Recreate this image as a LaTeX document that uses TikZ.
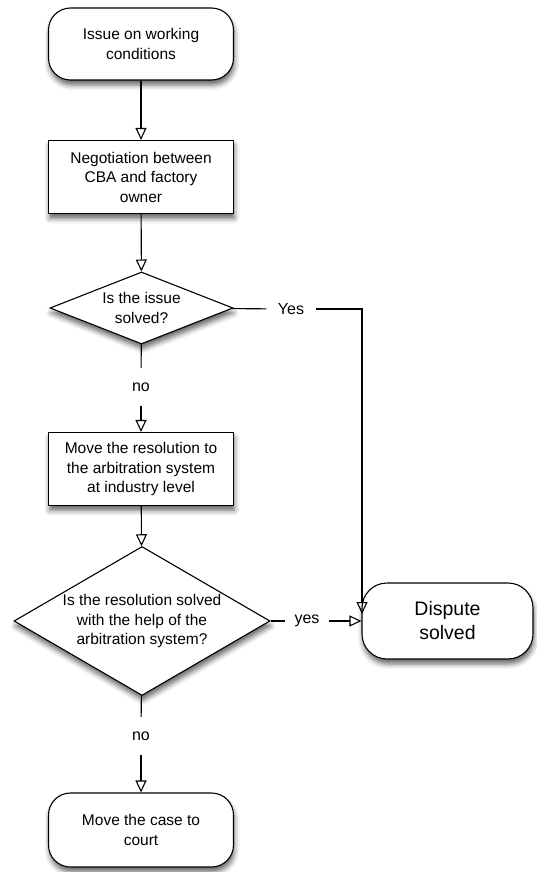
\documentclass[tikz,border=0pt]{standalone}
\usepackage{fontspec}
\setmainfont{Liberation Sans}
\usetikzlibrary{shapes.geometric,arrows.meta,shadows.blur}

\begin{document}
\begin{tikzpicture}[x=1pt,y=-1pt,
  line width=1.1pt,
  arr/.style={-{Triangle[open,length=12pt,width=11pt]}},
  shade/.style={blur shadow={shadow xshift=1pt,shadow yshift=-5pt,shadow blur radius=5pt,shadow opacity=60}},
  term/.style={draw,fill=white,shade,rounded corners=22pt,align=center,font=\fontsize{15.5}{19.5}\selectfont},
  proc/.style={draw,fill=white,shade,align=center,minimum width=185pt,minimum height=73pt,font=\fontsize{15.5}{19.5}\selectfont},
  quest/.style={draw,fill=white,shade,diamond,align=center,inner sep=-3pt,font=\fontsize{15.5}{19.5}\selectfont},
  lbl/.style={inner xsep=11pt,inner ysep=14pt,font=\fontsize{16}{19}\selectfont}]
\useasboundingbox (0,0) rectangle (536,872);

% boxes
\node[term,minimum width=185pt,minimum height=72pt] (issue) at (141,44) {Issue on working\\conditions};
\node[proc] (nego) at (141,177) {Negotiation between\\CBA and factory\\owner};
\node[quest,minimum width=183pt,minimum height=72pt,aspect=2.5] (q1) at (141.5,308) {Is the issue\\solved?};
\node[proc] (arb) at (141,469) {Move the resolution to\\the arbitration system\\at industry level};
\node[quest,minimum width=256pt,minimum height=149pt,aspect=1.7] (q2) at (142,621) {Is the resolution solved\\with the help of the\\arbitration system?};
\node[term,minimum width=185pt,minimum height=74pt] (court) at (141,830) {Move the case to\\court};
\node[term,minimum width=171pt,minimum height=76pt,rounded corners=25pt,font=\fontsize{19.5}{24}\selectfont] (dispute) at (447.5,621) {Dispute\\solved};

% labels on the lines
\node[lbl] (yes1) at (291,309) {Yes};
\node[lbl,inner xsep=9pt] (yes2) at (307,621) {yes};
\node[lbl] (no1) at (141,387) {no};
\node[lbl] (no2) at (141,736) {no};
\coordinate (hit) at (362,614);

% connectors
\draw[arr] (issue) -- (nego);
\draw[arr] (nego) -- (q1);
\draw (q1) -- (yes1);
\draw[arr] (yes1) -| (hit);
\draw (q1) -- (no1);
\draw[arr] (no1) -- (arb);
\draw[arr] (arb) -- (q2);
\draw (q2) -- (yes2);
\draw[arr] (yes2) -- (dispute);
\draw (q2) -- (no2);
\draw[arr] (no2) -- (court);
\end{tikzpicture}
\end{document}
